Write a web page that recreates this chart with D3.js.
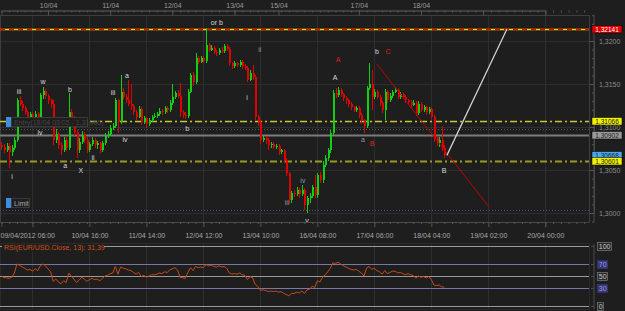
<!DOCTYPE html>
<html>
<head>
<meta charset="utf-8">
<script src="https://cdn.jsdelivr.net/npm/d3@7"></script>
<style>
body { margin: 0; background: #1e1e1e; }
svg { display: block; }
text { font-family: "Liberation Sans", Arial, sans-serif; font-size: 7px; }
</style>
</head>
<body>
<svg id="chart" width="625" height="311"></svg>
<script>
// EUR/USD hourly candles, 09/04/2012 06:00 onwards (open = previous close)
var firstOpen = 1.3079;
var closes = [
  1.3077,1.3073,1.3078,1.3071,1.3076,1.3085,1.3131,1.3127,1.3122,1.3117,
  1.3112,1.3115,1.3109,1.3115,1.3110,1.3137,1.3142,1.3136,1.3131,1.3127,
  1.3085,1.3092,1.3079,1.3073,1.3085,1.3076,1.3117,1.3110,1.3094,1.3073,
  1.3083,1.3091,1.3085,1.3073,1.3080,1.3085,1.3079,1.3081,1.3073,1.3081,
  1.3090,1.3092,1.3099,1.3101,1.3131,1.3106,1.3141,1.3135,1.3131,1.3127,
  1.3124,1.3117,1.3112,1.3121,1.3106,1.3110,1.3103,1.3108,1.3112,1.3113,
  1.3115,1.3119,1.3117,1.3122,1.3120,1.3128,1.3135,1.3140,1.3136,1.3117,
  1.3114,1.3113,1.3141,1.3160,1.3152,1.3180,1.3176,1.3180,1.3177,1.3195,
  1.3190,1.3192,1.3187,1.3186,1.3190,1.3188,1.3194,1.3191,1.3174,1.3171,
  1.3174,1.3172,1.3176,1.3171,1.3169,1.3155,1.3163,1.3158,1.3112,1.3106,
  1.3085,1.3087,1.3085,1.3079,1.3080,1.3077,1.3078,1.3071,1.3073,1.3062,
  1.3046,1.3015,1.3023,1.3022,1.3027,1.3022,1.3027,1.3009,1.3017,1.3020,
  1.3030,1.3021,1.3044,1.3038,1.3056,1.3064,1.3073,1.3093,1.3140,1.3137,
  1.3143,1.3138,1.3134,1.3131,1.3127,1.3123,1.3120,1.3122,1.3114,1.3107,
  1.3101,1.3145,1.3150,1.3135,1.3141,1.3135,1.3128,1.3120,1.3141,1.3131,
  1.3136,1.3141,1.3143,1.3135,1.3138,1.3135,1.3131,1.3129,1.3126,1.3128,
  1.3116,1.3127,1.3120,1.3123,1.3117,1.3121,1.3112,1.3087,1.3081,1.3085,
  1.3076,1.3067
];
var highs = [
  1.3082,1.3080,1.3081,1.3081,1.3079,1.3088,1.3134,1.3136,1.3130,1.3124,
  1.3119,1.3118,1.3117,1.3119,1.3117,1.3140,1.3146,1.3144,1.3138,1.3133,
  1.3131,1.3098,1.3094,1.3083,1.3088,1.3089,1.3140,1.3121,1.3113,1.3097,
  1.3087,1.3095,1.3094,1.3088,1.3083,1.3088,1.3087,1.3084,1.3083,1.3084,
  1.3093,1.3095,1.3102,1.3105,1.3134,1.3133,1.3160,1.3145,1.3138,1.3155,
  1.3150,1.3127,1.3120,1.3124,1.3123,1.3113,1.3112,1.3111,1.3114,1.3116,
  1.3118,1.3122,1.3121,1.3125,1.3124,1.3131,1.3150,1.3142,1.3143,1.3151,
  1.3120,1.3118,1.3144,1.3163,1.3164,1.3186,1.3183,1.3182,1.3182,1.3215,
  1.3198,1.3195,1.3194,1.3189,1.3192,1.3193,1.3197,1.3196,1.3193,1.3176,
  1.3177,1.3176,1.3178,1.3178,1.3173,1.3171,1.3166,1.3172,1.3160,1.3114,
  1.3108,1.3090,1.3089,1.3087,1.3083,1.3082,1.3080,1.3080,1.3075,1.3075,
  1.3064,1.3048,1.3026,1.3027,1.3030,1.3029,1.3033,1.3029,1.3020,1.3023,
  1.3033,1.3044,1.3047,1.3048,1.3060,1.3067,1.3076,1.3096,1.3143,1.3145,
  1.3146,1.3145,1.3140,1.3136,1.3133,1.3129,1.3125,1.3125,1.3124,1.3116,
  1.3109,1.3148,1.3174,1.3166,1.3144,1.3143,1.3137,1.3130,1.3144,1.3143,
  1.3139,1.3143,1.3147,1.3145,1.3141,1.3140,1.3137,1.3133,1.3131,1.3131,
  1.3130,1.3130,1.3129,1.3126,1.3125,1.3123,1.3123,1.3114,1.3089,1.3088,
  1.3101,1.3079
];
var lows = [
  1.3073,1.3070,1.3071,1.3052,1.3066,1.3073,1.3083,1.3125,1.3119,1.3114,
  1.3108,1.3109,1.3105,1.3107,1.3106,1.3108,1.3133,1.3133,1.3127,1.3122,
  1.3079,1.3081,1.3075,1.3067,1.3071,1.3072,1.3073,1.3105,1.3090,1.3064,
  1.3070,1.3080,1.3081,1.3070,1.3071,1.3078,1.3076,1.3075,1.3070,1.3071,
  1.3079,1.3087,1.3090,1.3096,1.3099,1.3093,1.3104,1.3132,1.3128,1.3124,
  1.3120,1.3114,1.3108,1.3110,1.3102,1.3103,1.3099,1.3101,1.3106,1.3110,
  1.3111,1.3113,1.3114,1.3115,1.3116,1.3118,1.3126,1.3133,1.3134,1.3112,
  1.3110,1.3109,1.3111,1.3139,1.3148,1.3150,1.3173,1.3174,1.3174,1.3175,
  1.3187,1.3188,1.3185,1.3183,1.3184,1.3186,1.3186,1.3188,1.3171,1.3168,
  1.3169,1.3170,1.3170,1.3168,1.3166,1.3152,1.3153,1.3155,1.3108,1.3101,
  1.3080,1.3083,1.3080,1.3073,1.3076,1.3074,1.3075,1.3068,1.3069,1.3058,
  1.3043,1.3011,1.3012,1.3019,1.3020,1.3018,1.3020,1.3003,1.3000,1.3012,
  1.3017,1.3017,1.3018,1.3035,1.3035,1.3053,1.3061,1.3070,1.3091,1.3134,
  1.3135,1.3135,1.3130,1.3127,1.3123,1.3120,1.3117,1.3117,1.3110,1.3103,
  1.3093,1.3099,1.3143,1.3120,1.3132,1.3132,1.3124,1.3116,1.3108,1.3128,
  1.3129,1.3134,1.3139,1.3132,1.3133,1.3132,1.3128,1.3126,1.3122,1.3124,
  1.3113,1.3114,1.3117,1.3118,1.3114,1.3115,1.3109,1.3083,1.3078,1.3077,
  1.3072,1.3064
];
// RSI(13) per candle
var rsi = [
  50,47,47,46,48,55,70,68,65,63,
  60,61,58,62,59,67,70,67,62,57,
  41,45,40,37,42,39,55,50,45,39,
  43,48,45,41,44,46,44,45,42,46,
  50,51,54,55,66,53,65,63,62,60,
  59,56,53,56,49,51,48,50,52,52,
  53,55,54,57,56,60,62,64,60,48,
  47,46,56,64,59,66,64,65,64,69,
  67,68,66,65,67,65,66,63,55,53,
  54,53,55,52,51,44,49,47,36,33,
  26,27,26,24,25,24,25,23,24,21,
  19,17,21,21,23,22,25,21,27,28,
  33,31,42,40,48,52,57,63,72,71,
  73,70,67,65,63,61,60,61,58,55,
  50,63,66,61,63,59,57,53,59,54,
  56,58,58,55,56,54,52,54,52,51,
  46,50,48,49,47,49,44,35,34,35,
  32,31.39
];

var priceTicks = [1.3000, 1.3050, 1.3100, 1.3150, 1.3200];
var rsiTicks = [100, 70, 50, 30, 0];

var dayLabels = ["10/04", "11/04", "12/04", "13/04", "15/04", "17/04", "18/04", "", ""];
var dayIdx = [18, 42, 66, 90, 107, 138, 162, 186, 210];

var timeLabels = ["09/04/2012 06:00", "10/04 16:00", "11/04 14:00", "12/04 12:00", "13/04 10:00",
                  "16/04 08:00", "17/04 06:00", "18/04 04:00", "19/04 02:00", "20/04 00:00"];
var timeIdx = [12, 34, 56, 78, 100, 122, 144, 166, 188, 210];

// horizontal levels
var levelPrices = [1.32141, 1.31066, 1.30975, 1.30902, 1.30668, 1.30601, 1.3003];
var levelKinds = ["target", "resist", "entry", "pivot", "bid", "support", "limit"];
var levelTags = ["1,32141", "1,31066", null, "1,30902", "1,30668", "1,30601", null];

// drawn trend lines [start, end]
var trendIdx = [[145, 188.3], [172, 195.2]];
var trendPrice = [[1.3173, 1.3007], [1.3067, 1.3214]];
var trendKinds = ["red", "white"];

// wave count annotations
var waveText = ["iii", "w", "b", "iii", "a", "i", "iv", "a", "X", "ii", "iv", "b", "or b", "ii", "i",
                "iii", "iv", "v", "A", "A", "a", "B", "b", "C", "B"];
var waveIdx = [6.8, 16.1, 26.5, 43.1, 48.5, 4.1, 14.9, 24.6, 30.7, 35.4, 47.7, 71.7, 83.2, 99.8, 94.8,
               110.3, 116.4, 118, 128.8, 130, 139.6, 143.1, 145, 149.3, 170.9];
var wavePrice = [1.3141, 1.3153, 1.3144, 1.3140, 1.3160, 1.3042, 1.3094, 1.3055, 1.3050, 1.3065, 1.3086,
                 1.3098, 1.3222, 1.3190, 1.3134, 1.3012, 1.3038, 1.2991, 1.3158, 1.3178, 1.3085, 1.3081,
                 1.3188, 1.3188, 1.3050];
var waveKinds = ["w", "w", "w", "w", "w", "w", "w", "w", "w", "w", "w", "w", "w", "g", "w",
                 "g", "g", "w", "w", "r", "g", "r", "w", "r", "w"];

var svg = d3.select("#chart");
var plotR = 589, plotT = 15, plotB = 222, rsiT = 243, rsiB = 309;

var x = d3.scaleLinear().domain([0, 210]).range([1.4, 545.3]);
var y = d3.scaleLinear().domain([1.3000, 1.3200]).range([213, 41]);
var ry = d3.scaleLinear().domain([0, 100]).range([306, 246]);
var fmtPrice = function (d) { return d3.format(".4f")(d).replace(".", ","); };

svg.append("rect").attr("width", 625).attr("height", 311).attr("fill", "#1e1e1e");

svg.append("defs").append("clipPath").attr("id", "plot")
    .append("rect").attr("x", 0).attr("y", plotT).attr("width", plotR).attr("height", plotB - plotT);

// grid
var grid = svg.append("g").attr("shape-rendering", "crispEdges");
grid.selectAll("line.h").data(priceTicks).enter().append("line")
    .attr("x1", 0).attr("x2", plotR).attr("y1", function (d) { return Math.round(y(d)) + 0.5; })
    .attr("y2", function (d) { return Math.round(y(d)) + 0.5; })
    .attr("stroke", "#2e2e2e");
timeIdx.forEach(function (i) {
    var px = Math.round(x(i)) + 0.5;
    grid.append("line").attr("x1", px).attr("x2", px).attr("y1", plotT).attr("y2", plotB).attr("stroke", "#2e2e2e");
    grid.append("line").attr("x1", px).attr("x2", px).attr("y1", rsiT).attr("y2", rsiB).attr("stroke", "#2e2e2e");
});

// frames
svg.append("rect").attr("x", 0.5).attr("y", plotT + 0.5).attr("width", plotR).attr("height", plotB - plotT)
    .attr("fill", "none").attr("stroke", "#3e3e3e");
svg.append("rect").attr("x", 0.5).attr("y", rsiT + 0.5).attr("width", plotR).attr("height", rsiB - rsiT)
    .attr("fill", "none").attr("stroke", "#2a2a2a");

// levels
var plot = svg.append("g").attr("clip-path", "url(#plot)");
var levelStyle = {
    target:  { stroke: "#e8e000", width: 1.6, dash: null },
    resist:  { stroke: "#c8c830", width: 1.5, dash: "7,3,2,3" },
    entry:   { stroke: "#5a5a5a", width: 1, dash: "1,2" },
    pivot:   { stroke: "#7c7c7c", width: 2, dash: null },
    bid:     null,
    support: { stroke: "#9a9a22", width: 2, dash: "7,3,2,3" },
    limit:   { stroke: "#4c4c80", width: 1, dash: "1,2" }
};
levelPrices.forEach(function (p, k) {
    var st = levelStyle[levelKinds[k]];
    if (!st) return;
    var ly = Math.round(y(p)) + 0.5;
    plot.append("line").attr("x1", 0).attr("x2", plotR).attr("y1", ly).attr("y2", ly)
        .attr("stroke", st.stroke).attr("stroke-width", st.width).attr("stroke-dasharray", st.dash);
    if (levelKinds[k] === "target") {
        plot.append("line").attr("x1", 0).attr("x2", plotR).attr("y1", ly).attr("y2", ly)
            .attr("stroke", "#e00000").attr("stroke-width", 1.6).attr("stroke-dasharray", "5,4");
    }
});

// candles
var candles = closes.map(function (c, i) {
    return { i: i, o: i ? closes[i - 1] : firstOpen, h: highs[i], l: lows[i], c: c };
});
var cg = plot.append("g").attr("shape-rendering", "crispEdges");
var col = function (d) { return d.c >= d.o ? "#10d010" : "#e00000"; };
cg.selectAll("line.wick").data(candles).enter().append("line")
    .attr("x1", function (d) { return Math.round(x(d.i)) + 0.5; })
    .attr("x2", function (d) { return Math.round(x(d.i)) + 0.5; })
    .attr("y1", function (d) { return y(d.h); })
    .attr("y2", function (d) { return y(d.l); })
    .attr("stroke", col);
cg.selectAll("rect.body").data(candles).enter().append("rect")
    .attr("x", function (d) { return Math.round(x(d.i)) - 0.5; })
    .attr("width", 2)
    .attr("y", function (d) { return y(Math.max(d.o, d.c)); })
    .attr("height", function (d) { return Math.max(1, Math.abs(y(d.o) - y(d.c))); })
    .attr("fill", col);

// trend lines
trendIdx.forEach(function (t, k) {
    plot.append("line")
        .attr("x1", x(t[0])).attr("y1", y(trendPrice[k][0]))
        .attr("x2", x(t[1])).attr("y2", y(trendPrice[k][1]))
        .attr("stroke", trendKinds[k] === "red" ? "#c00000" : "#d8d8d8")
        .attr("stroke-width", trendKinds[k] === "red" ? 1 : 1.2);
});

// order markers (entry / limit)
var marker = function (py, label, txtColor, w) {
    var m = svg.append("g").attr("transform", "translate(6," + Math.round(py) + ")");
    m.append("rect").attr("x", 5.5).attr("y", 0.5).attr("width", w).attr("height", 9)
        .attr("fill", "#1e1e1e").attr("stroke", "#3a3a3a");
    m.append("rect").attr("x", 0).attr("y", 0).attr("width", 5).attr("height", 10).attr("fill", "#3c8ee0");
    m.append("text").attr("x", 8).attr("y", 7.5).attr("fill", txtColor).text(label);
};
marker(y(levelPrices[1]) - 4, "Entry(18/04 03:05 - 1,31066)", "#454545", 76);
marker(y(levelPrices[6]) - 12, "Limit", "#a8a8a8", 18);

// wave labels
var waveColor = { w: "#d8d8d8", r: "#e02020", g: "#8c9ab0" };
svg.append("g").selectAll("text").data(waveText).enter().append("text")
    .attr("x", function (d, k) { return x(waveIdx[k]); })
    .attr("y", function (d, k) { return y(wavePrice[k]) + 2.5; })
    .attr("text-anchor", "middle")
    .attr("fill", function (d, k) { return waveColor[waveKinds[k]]; })
    .text(function (d) { return d; });

// right price axis
var pAxis = svg.append("g").attr("transform", "translate(594,0)")
    .call(d3.axisRight(y).tickValues(priceTicks).tickFormat(fmtPrice).tickSize(-4).tickPadding(5));
svg.append("g").attr("transform", "translate(594,0)")
    .call(d3.axisRight(y).tickValues(d3.range(1.299, 1.3231, 0.001)).tickFormat("").tickSize(-2));
svg.selectAll(".domain").attr("stroke", "#4a4a4a");
svg.selectAll(".tick line").attr("stroke", "#4a4a4a");
pAxis.selectAll("text").attr("fill", "#8c8c8c").style("font-size", "7px");
pAxis.select(".domain").attr("d", "M0," + plotT + "V" + plotB);

// level tags
var tagStyle = {
    target:  { fill: "#e00000", text: "#ffffff" },
    resist:  { fill: "#f0f000", text: "#202020" },
    pivot:   { fill: "#9a9a9a", text: "#202020" },
    bid:     { fill: "#48a8f0", text: "#202020" },
    support: { fill: "#f0f000", text: "#202020" }
};
levelPrices.forEach(function (p, k) {
    if (!levelTags[k]) return;
    var st = tagStyle[levelKinds[k]];
    var ty = Math.round(y(p));
    if (levelKinds[k] === "bid") ty -= 1;
    svg.append("rect").attr("x", 592).attr("y", ty - 3.5).attr("width", 30).attr("height", 7.5)
        .attr("fill", st.fill).attr("stroke", "#000").attr("stroke-width", 0.5);
    svg.append("text").attr("x", 607).attr("y", ty + 2.5).attr("text-anchor", "middle")
        .style("font-size", "6.5px").attr("fill", st.text).text(levelTags[k]);
});

// top date axis
var topAxis = svg.append("g").attr("transform", "translate(0,10.5)")
    .call(d3.axisTop(x).tickValues(dayIdx).tickSize(-5).tickPadding(3)
        .tickFormat(function (d, k) { return dayLabels[k]; }));
svg.append("g").attr("transform", "translate(0,10.5)")
    .call(d3.axisTop(x).tickValues(d3.range(0, 228, 3)).tickSize(-2).tickFormat(""));
topAxis.selectAll("text").attr("fill", "#9a9a9a");
svg.selectAll(".domain").attr("stroke", "#4a4a4a");
svg.selectAll(".tick line").attr("stroke", "#555");

// bottom time axis
var botAxis = svg.append("g").attr("transform", "translate(0," + plotB + ")")
    .call(d3.axisBottom(x).tickValues(timeIdx).tickSize(5).tickPadding(6)
        .tickFormat(function (d, k) { return timeLabels[k]; }));
svg.append("g").attr("transform", "translate(0," + plotB + ")")
    .call(d3.axisBottom(x).tickValues(d3.range(0, 228, 3)).tickSize(2).tickFormat(""));
botAxis.selectAll("text").attr("fill", "#a8a8a8");
botAxis.select(".tick text").attr("text-anchor", "start").attr("x", -x(timeIdx[0]));
svg.selectAll(".domain").attr("stroke", "#4a4a4a");
svg.selectAll(".tick line").attr("stroke", "#555");

// RSI panel
var rsiColor = { 100: "#9a9a9a", 70: "#7878a8", 50: "#9a9a9a", 30: "#7878a8", 0: "#9a9a9a" };
svg.append("g").selectAll("line").data(rsiTicks).enter().append("line")
    .attr("x1", 0).attr("x2", plotR)
    .attr("y1", function (d) { return Math.round(ry(d)) + 0.5; })
    .attr("y2", function (d) { return Math.round(ry(d)) + 0.5; })
    .attr("stroke", function (d) { return rsiColor[d]; })
    .attr("shape-rendering", "crispEdges");

svg.append("path").datum(rsi)
    .attr("d", d3.line().x(function (d, i) { return x(i); }).y(function (d) { return ry(d); }))
    .attr("fill", "none").attr("stroke", "#c84a12").attr("stroke-width", 1);

svg.append("rect").attr("x", 2).attr("y", 244).attr("width", 102).attr("height", 8).attr("fill", "#1e1e1e");
svg.append("text").attr("x", 4).attr("y", 250).attr("fill", "#d05018")
    .text("RSI(EUR/USD.Close, 13): 31,39");

var rAxis = svg.append("g").attr("transform", "translate(594,0)")
    .call(d3.axisRight(ry).tickValues(rsiTicks).tickFormat("").tickSize(-3));
rAxis.select(".domain").attr("d", "M0," + (rsiT + 1) + "V" + rsiB).attr("stroke", "#4a4a4a");
rAxis.selectAll(".tick line").attr("stroke", "#4a4a4a");
rsiTicks.forEach(function (v) {
    var ty = Math.round(ry(v));
    var w = String(v).length * 4 + 2;
    var purple = v === 70 || v === 30;
    svg.append("rect").attr("x", 597.5).attr("y", ty - 3.5).attr("width", w).attr("height", 8)
        .attr("fill", purple ? "#383878" : "#2a2a2a").attr("stroke", purple ? "#383878" : "#8a8a8a")
        .attr("stroke-width", 0.6);
    svg.append("text").attr("x", 598.8).attr("y", ty + 3).attr("fill", purple ? "#9a9ae0" : "#c8c8c8")
        .text(v);
});
</script>
</body>
</html>
